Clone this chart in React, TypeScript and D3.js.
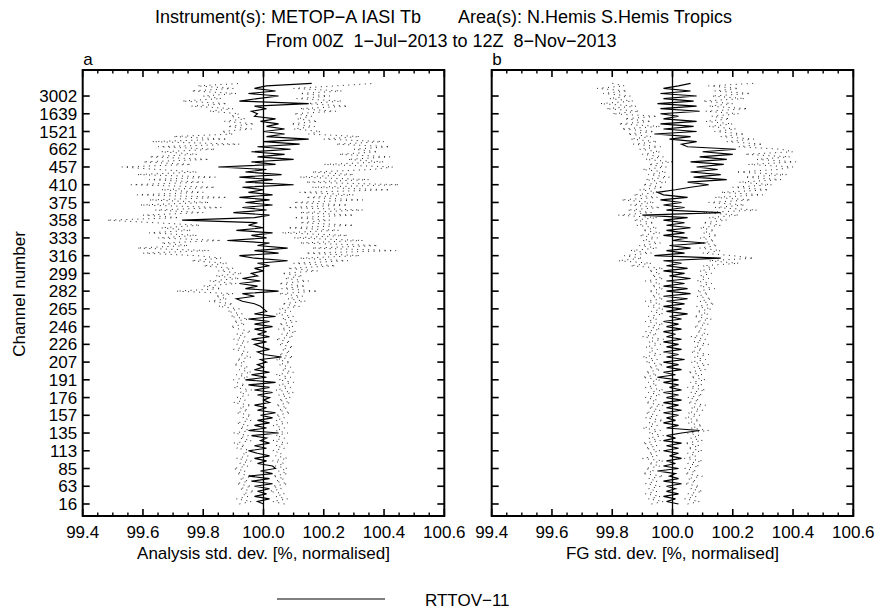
import React from 'react';
import * as d3 from 'd3';

// Channel tick labels (bottom to top), one label every `labelStep` channels
const channelLabels = ['16','63','85','113','135','157','176','191','207','226','246','265','282','299','316','333','358','375','410','457','662','1521','1639','3002'];
const labelStep = 7;
const xTickValues = [99.4, 99.6, 99.8, 100.0, 100.2, 100.4, 100.6];

// Panel a: analysis std. dev. (normalised), mean and confidence bounds, channel index 0..166
const aMid = [
100.00,99.98,100.02,99.97,100.01,99.98,100.02,
99.97,100.03,99.96,100.02,99.95,100.03,99.99,
100.04,100.03,99.98,100.01,99.97,100.02,99.98,
99.95,100.01,99.97,100.02,99.99,100.01,99.96,
100.05,99.95,100.01,99.97,100.02,99.98,100.03,
99.99,100.04,99.98,100.01,99.97,100.02,100.00,
100.02,99.98,100.03,99.97,100.02,99.95,100.04,
99.94,100.01,99.96,100.02,99.97,100.00,99.98,
100.01,99.99,100.06,100.00,99.98,100.02,99.99,
99.97,100.01,99.96,100.02,99.98,100.01,99.97,
100.03,99.97,100.02,99.95,100.04,99.97,100.01,
100.00,99.99,99.97,99.93,99.91,99.97,99.93,
100.05,99.94,99.98,99.92,99.99,99.93,99.98,
99.96,100.00,99.97,100.02,99.98,100.08,99.97,
99.92,100.05,99.97,100.08,99.98,100.02,99.88,
100.01,99.96,100.03,99.91,100.00,99.95,99.98,
99.73,99.97,100.02,99.90,100.01,99.93,100.03,
99.94,100.02,99.92,100.03,99.95,100.00,99.93,
100.10,99.94,100.03,99.92,100.06,99.94,100.01,
99.85,100.04,99.96,100.10,99.98,100.07,99.96,
100.09,99.98,100.12,100.00,100.15,100.01,100.07,
100.00,100.07,100.01,100.05,99.99,100.04,99.97,
99.98,99.96,100.01,99.97,100.15,99.92,99.98,
100.05,99.95,100.04,99.97,100.01,100.16
];
const aLo = [
99.92,99.96,99.91,99.95,99.93,99.97,99.92,
99.96,99.91,99.95,99.92,99.97,99.91,99.94,
99.90,99.95,99.92,99.96,99.91,99.95,99.93,
99.97,99.91,99.94,99.90,99.96,99.92,99.95,
99.90,99.96,99.92,99.95,99.91,99.96,99.93,
99.96,99.91,99.95,99.92,99.96,99.90,99.94,
99.91,99.95,99.92,99.96,99.90,99.94,99.91,
99.90,99.95,99.91,99.96,99.92,99.95,99.90,
99.94,99.91,99.96,99.92,99.95,99.90,99.94,
99.91,99.95,99.90,99.94,99.91,99.96,99.92,
99.89,99.94,99.90,99.95,99.89,99.93,99.88,
99.92,99.85,99.90,99.82,99.88,99.84,99.90,
99.71,99.86,99.80,99.91,99.82,99.92,99.84,
99.93,99.85,99.90,99.80,99.88,99.76,99.86,
99.78,99.60,99.82,99.58,99.75,99.66,99.86,
99.65,99.78,99.62,99.76,99.66,99.79,99.64,
99.48,99.72,99.60,99.80,99.64,99.86,99.59,
99.82,99.62,99.88,99.58,99.80,99.66,99.84,
99.56,99.80,99.62,99.84,99.58,99.78,99.65,
99.53,99.76,99.60,99.82,99.62,99.78,99.66,
99.84,99.65,99.92,99.63,99.88,99.70,99.90,
99.86,99.96,99.88,99.97,99.87,99.94,99.89,
99.92,99.82,99.90,99.76,99.88,99.73,99.86,
99.80,99.91,99.76,99.90,99.78,99.93
];
const aHi = [
100.07,100.03,100.08,100.04,100.07,100.02,100.06,
100.03,100.08,100.04,100.07,100.03,100.08,100.05,
100.08,100.04,100.07,100.03,100.08,100.04,100.06,
100.03,100.07,100.04,100.08,100.03,100.07,100.04,
100.08,100.04,100.07,100.03,100.08,100.04,100.07,
100.04,100.09,100.05,100.08,100.04,100.09,100.05,
100.09,100.05,100.10,100.04,100.09,100.05,100.10,
100.05,100.09,100.04,100.10,100.06,100.09,100.05,
100.09,100.04,100.10,100.05,100.09,100.06,100.10,
100.05,100.09,100.04,100.10,100.06,100.11,100.05,
100.10,100.05,100.11,100.06,100.10,100.04,100.09,
100.05,100.12,100.06,100.14,100.08,100.13,100.05,
100.18,100.06,100.14,100.05,100.15,100.07,100.13,
100.06,100.18,100.08,100.24,100.10,100.28,100.12,
100.32,100.14,100.44,100.16,100.38,100.12,100.33,
100.10,100.28,100.06,100.25,100.08,100.30,100.12,
100.22,100.10,100.30,100.12,100.33,100.08,100.28,
100.10,100.33,100.14,100.30,100.12,100.42,100.16,
100.45,100.14,100.35,100.12,100.30,100.16,100.36,
100.43,100.20,100.40,100.28,100.42,100.25,100.38,
100.30,100.42,100.24,100.40,100.20,100.32,100.15,
100.19,100.10,100.17,100.09,100.18,100.11,100.16,
100.10,100.24,100.12,100.28,100.14,100.26,100.11,
100.22,100.12,100.26,100.10,100.24,100.37
];

// Panel b: first-guess std. dev. (normalised)
const bMid = [
100.02,99.98,100.01,99.97,100.02,99.98,100.01,
99.98,100.03,99.97,100.02,99.99,100.01,99.95,
100.02,99.97,100.01,99.98,100.03,99.99,100.02,
99.97,100.02,99.98,100.03,99.97,100.01,99.98,
100.03,100.09,99.98,100.02,99.97,100.01,99.98,
100.02,99.97,100.03,99.98,100.02,99.97,100.03,
99.98,100.02,99.97,100.03,99.99,100.02,99.97,
100.02,99.95,100.01,99.97,100.03,99.98,100.02,
99.97,100.04,99.98,100.02,99.97,100.03,99.98,
100.02,99.97,100.03,99.98,100.01,99.97,100.03,
99.98,100.02,99.97,100.03,99.99,100.05,99.98,
100.03,99.97,100.04,99.98,100.05,99.97,100.06,
99.98,100.05,99.97,100.04,99.98,100.06,99.99,
100.04,99.97,100.05,99.98,100.03,99.97,100.16,
99.94,100.04,99.98,100.06,99.99,100.11,100.00,
100.05,99.97,100.04,99.98,100.06,99.98,100.04,
99.97,100.05,99.90,100.16,99.98,100.04,99.97,
100.03,99.96,100.05,99.97,99.95,100.01,100.06,
100.12,100.05,100.18,100.07,100.16,100.06,100.15,
100.08,100.17,100.06,100.18,100.09,100.20,100.10,
100.21,100.05,100.03,100.08,99.99,100.06,99.94,
100.08,99.97,100.07,99.96,100.08,99.97,100.02,
99.96,100.09,99.96,100.08,99.95,100.07,99.97,
100.08,99.96,100.06,99.97,100.02,100.06
];
const bLo = [
99.93,99.97,99.92,99.96,99.91,99.95,99.92,
99.96,99.91,99.95,99.92,99.97,99.90,99.94,
99.91,99.96,99.92,99.97,99.90,99.95,99.92,
99.96,99.91,99.95,99.90,99.96,99.92,99.97,
99.92,99.96,99.90,99.95,99.92,99.97,99.91,
99.95,99.91,99.96,99.92,99.97,99.91,99.95,
99.91,99.96,99.92,99.97,99.91,99.95,99.92,
99.96,99.90,99.95,99.91,99.96,99.92,99.97,
99.91,99.95,99.90,99.96,99.92,99.95,99.91,
99.96,99.92,99.97,99.90,99.95,99.91,99.96,
99.92,99.97,99.91,99.95,99.92,99.97,99.93,
99.97,99.92,99.96,99.91,99.97,99.93,99.96,
99.92,99.97,99.93,99.96,99.91,99.97,99.93,
99.96,99.92,99.97,99.86,99.93,99.82,99.90,
99.84,99.93,99.86,99.95,99.89,99.96,99.90,
99.95,99.89,99.96,99.90,99.95,99.88,99.94,
99.87,99.95,99.82,99.93,99.85,99.96,99.86,
99.94,99.83,99.95,99.87,99.96,99.89,99.97,
99.90,99.98,99.91,99.99,99.92,99.98,99.90,
99.98,99.92,100.00,99.91,99.97,99.90,99.96,
99.89,99.96,99.87,99.95,99.86,99.93,99.85,
99.94,99.83,99.96,99.82,99.93,99.84,99.95,
99.80,99.89,99.78,99.88,99.76,99.87,99.79,
99.86,99.77,99.85,99.75,99.84,99.80
];
const bHi = [
100.05,100.09,100.04,100.08,100.05,100.10,100.06,
100.09,100.04,100.08,100.05,100.10,100.04,100.08,
100.04,100.09,100.05,100.10,100.04,100.08,100.05,
100.10,100.05,100.09,100.04,100.10,100.06,100.09,
100.05,100.12,100.06,100.10,100.05,100.09,100.04,
100.09,100.05,100.10,100.06,100.11,100.05,100.09,
100.05,100.10,100.06,100.11,100.05,100.10,100.06,
100.11,100.06,100.10,100.05,100.11,100.07,100.12,
100.06,100.11,100.07,100.12,100.06,100.10,100.07,
100.12,100.07,100.11,100.06,100.12,100.08,100.11,
100.07,100.12,100.08,100.13,100.07,100.12,100.08,
100.13,100.08,100.14,100.09,100.13,100.08,100.12,
100.08,100.14,100.09,100.13,100.08,100.12,100.09,
100.13,100.09,100.14,100.10,100.22,100.12,100.27,
100.20,100.10,100.16,100.09,100.15,100.10,100.14,
100.09,100.15,100.10,100.14,100.09,100.16,100.10,
100.18,100.12,100.22,100.10,100.28,100.14,100.24,
100.12,100.26,100.14,100.30,100.16,100.32,100.20,
100.33,100.22,100.36,100.24,100.38,100.21,100.35,
100.40,100.25,100.41,100.28,100.39,100.24,100.40,
100.36,100.22,100.30,100.18,100.27,100.16,100.24,
100.14,100.21,100.12,100.20,100.11,100.19,100.13,
100.22,100.11,100.25,100.12,100.20,100.10,100.24,
100.13,100.26,100.14,100.22,100.12,100.27
];

const FONT = '"Liberation Sans", Arial, Helvetica, sans-serif';
const W = 880;
const H = 609;
const TOP = 70;
const BOTTOM = 516;

const panels = [
  { key: 'a', left: 82.7, right: 444.3, xTitle: 'Analysis std. dev. [%, normalised]', mid: aMid, lo: aLo, hi: aHi, showY: true },
  { key: 'b', left: 491.7, right: 853.3, xTitle: 'FG std. dev. [%, normalised]', mid: bMid, lo: bLo, hi: bHi, showY: false },
];

const y = d3.scaleLinear().domain([-4.74, 171.27]).range([BOTTOM, TOP]);

function Panel({ p }: { p: typeof panels[number] }) {
  const x = d3.scaleLinear().domain([99.4, 100.6]).range([p.left, p.right]);
  const line = d3.line<number>().x((v) => x(v)).y((_, i) => y(i));
  const minor = d3.range(0, 25).map((k) => 99.4 + k * 0.05).filter((v) => Math.abs(Math.round(v * 5) - v * 5) > 1e-6);
  const majorLen = 7;
  const minorLen = 3.5;
  return (
    <g>
      <line x1={x(100)} x2={x(100)} y1={TOP} y2={BOTTOM} stroke="#000" strokeWidth={1.3} />
      <path d={line(p.lo) || ''} fill="none" stroke="#222" strokeWidth={1} strokeDasharray="1 4.5" />
      <path d={line(p.hi) || ''} fill="none" stroke="#222" strokeWidth={1} strokeDasharray="1 4.5" />
      <path d={line(p.mid) || ''} fill="none" stroke="#000" strokeWidth={1.15} />
      <rect x={p.left} y={TOP} width={p.right - p.left} height={BOTTOM - TOP} fill="none" stroke="#000" strokeWidth={2} />
      {xTickValues.map((t) => (
        <g key={'xt' + t}>
          <line x1={x(t)} x2={x(t)} y1={BOTTOM} y2={BOTTOM - majorLen} stroke="#000" strokeWidth={1.6} />
          <line x1={x(t)} x2={x(t)} y1={TOP} y2={TOP + majorLen} stroke="#000" strokeWidth={1.6} />
          <text x={x(t)} y={538} textAnchor="middle" fontSize={17} fontFamily={FONT}>{t.toFixed(1)}</text>
        </g>
      ))}
      {minor.map((t) => (
        <g key={'xm' + t}>
          <line x1={x(t)} x2={x(t)} y1={BOTTOM} y2={BOTTOM - minorLen} stroke="#000" strokeWidth={1.4} />
          <line x1={x(t)} x2={x(t)} y1={TOP} y2={TOP + minorLen} stroke="#000" strokeWidth={1.4} />
        </g>
      ))}
      {channelLabels.map((lab, i) => (
        <g key={'yt' + lab}>
          <line x1={p.left} x2={p.left + majorLen} y1={y(i * labelStep)} y2={y(i * labelStep)} stroke="#000" strokeWidth={1.6} />
          <line x1={p.right} x2={p.right - majorLen} y1={y(i * labelStep)} y2={y(i * labelStep)} stroke="#000" strokeWidth={1.6} />
          {p.showY && (
            <text x={p.left - 5.5} y={y(i * labelStep)} dy="0.36em" textAnchor="end" fontSize={17} fontFamily={FONT}>{lab}</text>
          )}
        </g>
      ))}
      <text x={p.left + 0.5} y={65} fontSize={17} fontFamily={FONT}>{p.key}</text>
      <text x={(p.left + p.right) / 2} y={559} textAnchor="middle" fontSize={17} fontFamily={FONT}>{p.xTitle}</text>
    </g>
  );
}

export default function App() {
  return (
    <svg width={W} height={H} viewBox={`0 0 ${W} ${H}`} style={{ position: 'absolute', left: 0, top: 0, background: '#fff', display: 'block' }}>
      <rect x={0} y={0} width={W} height={H} fill="#fff" />
      <text x={155} y={23} fontSize={18} fontFamily={FONT}>Instrument(s): METOP−A IASI Tb</text>
      <text x={458} y={23} fontSize={18} fontFamily={FONT}>Area(s): N.Hemis S.Hemis Tropics</text>
      <text x={441} y={47} textAnchor="middle" fontSize={18} fontFamily={FONT} style={{ whiteSpace: 'pre' }}>{'From 00Z  1−Jul−2013 to 12Z  8−Nov−2013'}</text>
      <text transform={`translate(25, 294) rotate(-90)`} textAnchor="middle" fontSize={17} fontFamily={FONT}>Channel number</text>
      {panels.map((p) => <Panel key={p.key} p={p} />)}
      <line x1={277} x2={385} y1={599} y2={599} stroke="#000" strokeWidth={1.2} />
      <text x={425} y={606} fontSize={17} fontFamily={FONT}>RTTOV−11</text>
    </svg>
  );
}
